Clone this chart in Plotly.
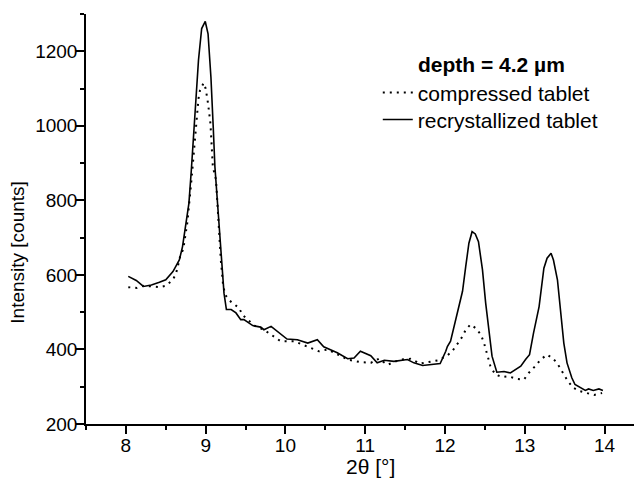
import plotly.graph_objects as go

# 2theta (deg) and intensity (counts)
x_compressed = [8.03, 8.14, 8.23, 8.42, 8.50, 8.59, 8.63, 8.66, 8.68, 8.72, 8.77, 8.82, 8.84, 8.86,
                8.88, 8.91, 8.93, 8.975, 9.00, 9.03, 9.06, 9.075, 9.09, 9.13, 9.15, 9.19, 9.22,
                9.25, 9.30, 9.34, 9.42, 9.46, 9.61, 9.73, 9.86, 9.94, 10.11, 10.28, 10.42, 10.53,
                10.65, 10.78, 10.94, 11.07, 11.17, 11.28, 11.44, 11.57, 11.69, 11.82, 11.92, 12.03,
                12.09, 12.15, 12.22, 12.26, 12.32, 12.38, 12.45, 12.49, 12.53, 12.57, 12.63, 12.72,
                12.80, 12.90, 12.99, 13.05, 13.13, 13.20, 13.28, 13.36, 13.43, 13.49, 13.54, 13.61,
                13.69, 13.78, 13.87, 13.97]
y_compressed = [567, 565, 571, 567, 571, 587, 605, 632, 649, 670, 740, 850, 899, 953,
                1015, 1073, 1096, 1115, 1100, 1060, 1006, 944, 890, 855, 774, 640, 569,
                545, 531, 524, 511, 493, 464, 453, 435, 422, 422, 408, 395, 400,
                386, 373, 366, 364, 375, 359, 373, 375, 362, 368, 371, 384,
                395, 413, 435, 453, 467, 458, 440, 417, 382, 355, 333, 326,
                328, 321, 319, 337, 355, 373, 386, 375, 355, 333, 315, 297,
                288, 283, 278, 283]

x_recryst = [8.03, 8.13, 8.22, 8.32, 8.42, 8.50, 8.59, 8.67, 8.71, 8.75, 8.79, 8.82, 8.87, 8.91,
             8.95, 8.995, 9.03, 9.066, 9.095, 9.116, 9.14, 9.17, 9.20, 9.23, 9.26, 9.32, 9.38,
             9.44, 9.48, 9.59, 9.69, 9.73, 9.82, 9.90, 10.02, 10.15, 10.28, 10.40, 10.48, 10.65,
             10.78, 10.86, 10.94, 11.07, 11.15, 11.24, 11.36, 11.53, 11.61, 11.72, 11.82, 11.94,
             12.01, 12.03, 12.07, 12.12, 12.17, 12.22, 12.26, 12.30, 12.34, 12.38, 12.42, 12.47,
             12.51, 12.55, 12.59, 12.65, 12.74, 12.82, 12.88, 12.95, 13.01, 13.06, 13.11, 13.18,
             13.24, 13.28, 13.33, 13.36, 13.41, 13.45, 13.49, 13.53, 13.59, 13.63, 13.70, 13.76,
             13.80, 13.86, 13.93, 13.98]
y_recryst = [596, 585, 569, 573, 580, 587, 609, 640, 676, 730, 792, 880, 1042, 1176,
             1261, 1280, 1247, 1131, 997, 890, 819, 730, 640, 551, 507, 507, 498,
             480, 480, 464, 460, 453, 462, 448, 428, 426, 417, 426, 407, 391,
             375, 377, 395, 383, 364, 371, 368, 373, 364, 357, 359, 362,
             395, 408, 422, 465, 507, 556, 622, 685, 716, 710, 689, 614,
             525, 444, 382, 339, 341, 337, 346, 355, 373, 386, 444, 515,
             618, 645, 658, 640, 587, 498, 417, 364, 324, 306, 297, 290,
             294, 290, 294, 290]

x_ticks = [8, 9, 10, 11, 12, 13, 14]
y_ticks = [200, 400, 600, 800, 1000, 1200]

FONT = "Liberation Sans, Arial, sans-serif"

fig = go.Figure()
fig.add_trace(go.Scatter(x=x_compressed, y=y_compressed, mode="lines",
                         name="compressed tablet", legend="legend",
                         line=dict(color="black", width=2, dash="2px,5px")))
fig.add_trace(go.Scatter(x=x_recryst, y=y_recryst, mode="lines",
                         name="recrystallized tablet", legend="legend2",
                         line=dict(color="black", width=1.6)))

axis_common = dict(showline=True, linecolor="black", linewidth=1.5, ticks="outside",
                   ticklen=8, tickwidth=1.5, tickcolor="black", showgrid=False,
                   zeroline=False, mirror=False, automargin=False, ticklabelstandoff=-5,
                   tickfont=dict(family=FONT, size=19, color="black"))

fig.update_xaxes(range=[7.5, 14.47], tickvals=x_ticks,
                 minor=dict(dtick=0.5, ticklen=4, tickwidth=1.5, tickcolor="black", ticks="outside"),
                 **axis_common)
fig.update_yaxes(range=[200, 1300], tickvals=y_ticks,
                 minor=dict(dtick=100, ticklen=4, tickwidth=1.5, tickcolor="black", ticks="outside"),
                 **axis_common)

legend_common = dict(xanchor="left", yanchor="middle", bgcolor="rgba(0,0,0,0)",
                     font=dict(family=FONT, size=21, color="black"))

# the page body adds an 8px offset; the figure size/margins compensate for it
fig.update_layout(
    width=634, height=479,
    margin=dict(l=78, r=0, t=6, b=62.5, autoexpand=False),
    plot_bgcolor="white", paper_bgcolor="white",
    showlegend=True,
    legend=dict(x=0.5248, y=0.8076, **legend_common),
    legend2=dict(x=0.5248, y=0.7418, **legend_common),
    annotations=[
        dict(text="<b>depth = 4.2 µm</b>", xref="paper", yref="paper", x=0.594, y=0.876,
             xanchor="left", yanchor="middle", showarrow=False,
             font=dict(family=FONT, size=21, color="black")),
        dict(text="Intensity [counts]", xref="paper", yref="paper", x=-0.1223, y=0.4178,
             xanchor="center", yanchor="middle", textangle=-90, showarrow=False,
             font=dict(family=FONT, size=19, color="black")),
        dict(text="2θ [°]", xref="paper", yref="paper", x=0.511, y=-0.1035,
             xanchor="center", yanchor="middle", showarrow=False,
             font=dict(family=FONT, size=21, color="black")),
    ],
)

fig.write_html("out.html")
